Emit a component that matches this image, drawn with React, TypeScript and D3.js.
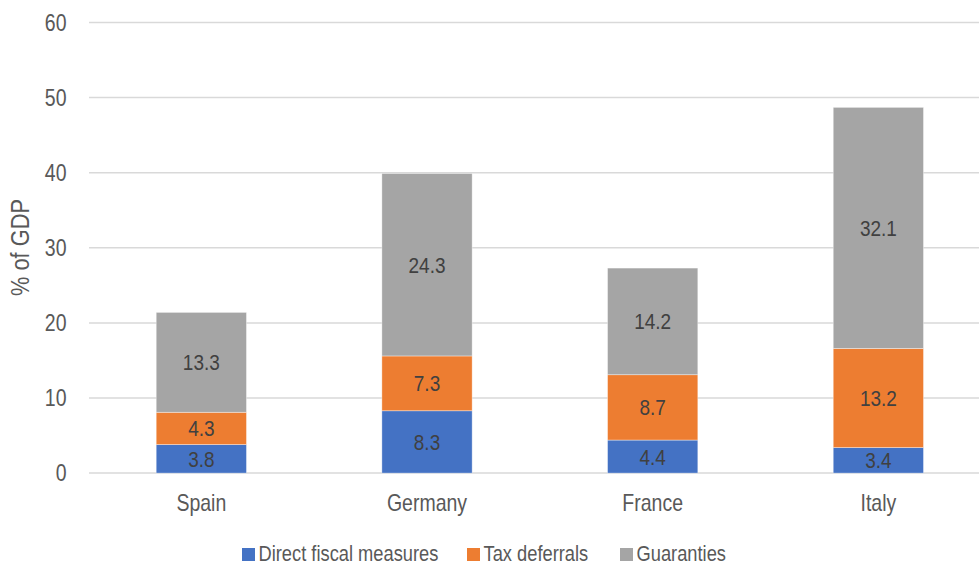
import React from "react";
import * as d3 from "d3";

const categories = ["Spain", "Germany", "France", "Italy"];
const seriesNames = ["Direct fiscal measures", "Tax deferrals", "Guaranties"];
const direct = [3.8, 8.3, 4.4, 3.4];
const taxDeferrals = [4.3, 7.3, 8.7, 13.2];
const guaranties = [13.3, 24.3, 14.2, 32.1];
const yTicks = [0, 10, 20, 30, 40, 50, 60];
const colors = ["#4472C4", "#ED7D31", "#A5A5A5"];

const W = 979;
const H = 565;
const FONT = "'Liberation Sans', Arial, sans-serif";
const SY = 1.2;

function T({ x, y, anchor = "middle", fill = "#595959", rotate = 0, fs = 19.5, children }: any) {
  return (
    <text
      transform={`translate(${x},${y}) rotate(${rotate}) scale(1,${SY})`}
      textAnchor={anchor}
      dy="0.35em"
      fontFamily={FONT}
      fontSize={fs}
      fill={fill}
    >
      {children}
    </text>
  );
}

export default function App() {
  const rows = categories.map((c, i) => ({
    cat: c,
    s0: direct[i],
    s1: taxDeferrals[i],
    s2: guaranties[i],
  }));
  const stack = d3.stack<any>().keys(["s0", "s1", "s2"])(rows);

  const x = d3.scaleBand().domain(categories).range([88.5, 991.2]).paddingInner(0.6).paddingOuter(0.3);
  const y = d3.scaleLinear().domain([0, 60]).range([473.1, 22.5]);

  return (
    <svg
      width={W}
      height={H}
      style={{ position: "absolute", left: 0, top: 0, background: "#fff" }}
    >
      {yTicks.map((t) => (
        <g key={t}>
          <line x1={89} x2={W} y1={y(t)} y2={y(t)} stroke="#d9d9d9" strokeWidth={1.5} />
          <T x={66.5} y={y(t)} anchor="end">
            {t}
          </T>
        </g>
      ))}
      <T x={19.5} y={247.5} rotate={-90} fs={21.8}>
        % of GDP
      </T>
      {stack.map((layer, si) =>
        layer.map((d, ci) => {
          const cat = categories[ci];
          const x0 = x(cat)!;
          const y0 = y(d[1]);
          const y1 = y(d[0]);
          return (
            <g key={`${si}-${ci}`}>
              <rect
                x={x0}
                y={y0}
                width={x.bandwidth()}
                height={y1 - y0}
                fill={colors[si]}
                stroke="#ffffff"
                strokeOpacity={0.5}
                strokeWidth={0.75}
              />
              <T x={x0 + x.bandwidth() / 2} y={(y0 + y1) / 2} fill="#404040" fs={19}>
                {(d[1] - d[0]).toFixed(1)}
              </T>
            </g>
          );
        })
      )}
      {categories.map((c) => (
        <T key={c} x={x(c)! + x.bandwidth() / 2} y={502.5}>
          {c}
        </T>
      ))}
      {seriesNames.map((s, i) => {
        const lx = [242, 467, 620][i];
        return (
          <g key={s}>
            <rect x={lx} y={548} width={13} height={13} fill={colors[i]} />
            <T x={lx + 16.5} y={553.5} anchor="start" fs={18.3}>
              {s}
            </T>
          </g>
        );
      })}
    </svg>
  );
}
